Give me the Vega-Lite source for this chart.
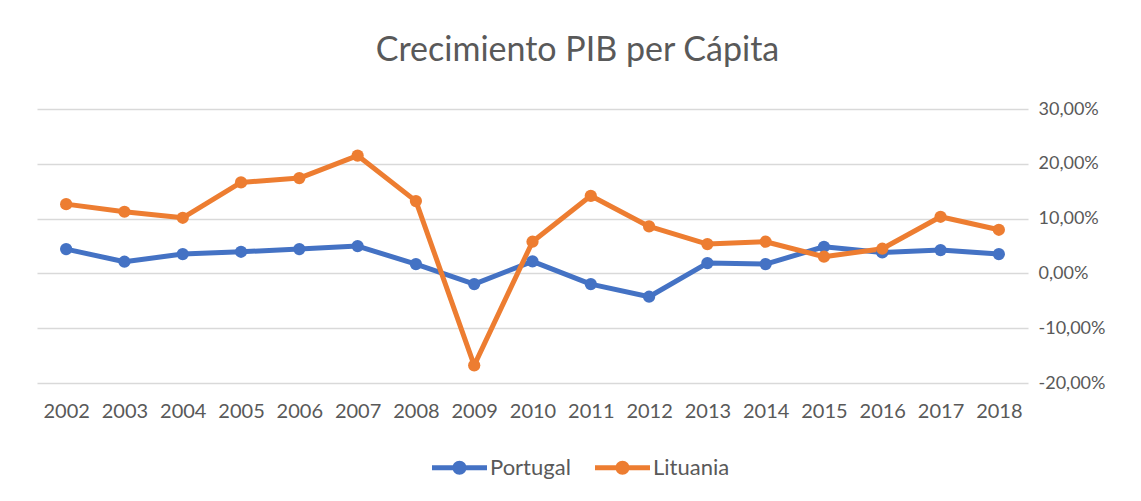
{
  "$schema": "https://vega.github.io/schema/vega-lite/v6.json",
  "autosize": "none",
  "width": 991,
  "height": 274,
  "padding": {"left": 37, "top": 109, "right": 113, "bottom": 118},
  "background": "white",
  "title": {
    "text": "Crecimiento PIB per Cápita",
    "anchor": "middle",
    "frame": "group",
    "baseline": "alphabetic",
    "offset": 5,
    "dx": 45,
    "font": "Lato",
    "fontSize": 34,
    "fontWeight": "normal",
    "color": "#595959"
  },
  "config": {
    "view": {"stroke": null},
    "font": "Lato",
    "axis": {"labelFont": "Lato", "labelFontSize": 20, "labelColor": "#595959", "titleColor": "#595959"},
    "legend": {"labelFont": "Lato", "labelFontSize": 22, "labelColor": "#595959"}
  },
  "data": {
    "values": [
      {"year": "2002", "country": "Portugal", "value": 4.44},
      {"year": "2003", "country": "Portugal", "value": 2.13},
      {"year": "2004", "country": "Portugal", "value": 3.53},
      {"year": "2005", "country": "Portugal", "value": 3.95},
      {"year": "2006", "country": "Portugal", "value": 4.44},
      {"year": "2007", "country": "Portugal", "value": 4.98},
      {"year": "2008", "country": "Portugal", "value": 1.70},
      {"year": "2009", "country": "Portugal", "value": -1.95},
      {"year": "2010", "country": "Portugal", "value": 2.19},
      {"year": "2011", "country": "Portugal", "value": -1.95},
      {"year": "2012", "country": "Portugal", "value": -4.26},
      {"year": "2013", "country": "Portugal", "value": 1.88},
      {"year": "2014", "country": "Portugal", "value": 1.70},
      {"year": "2015", "country": "Portugal", "value": 4.86},
      {"year": "2016", "country": "Portugal", "value": 3.83},
      {"year": "2017", "country": "Portugal", "value": 4.26},
      {"year": "2018", "country": "Portugal", "value": 3.53},
      {"year": "2002", "country": "Lituania", "value": 12.64},
      {"year": "2003", "country": "Lituania", "value": 11.25},
      {"year": "2004", "country": "Lituania", "value": 10.15},
      {"year": "2005", "country": "Lituania", "value": 16.60},
      {"year": "2006", "country": "Lituania", "value": 17.39},
      {"year": "2007", "country": "Lituania", "value": 21.50},
      {"year": "2008", "country": "Lituania", "value": 13.19},
      {"year": "2009", "country": "Lituania", "value": -16.78},
      {"year": "2010", "country": "Lituania", "value": 5.78},
      {"year": "2011", "country": "Lituania", "value": 14.16},
      {"year": "2012", "country": "Lituania", "value": 8.57},
      {"year": "2013", "country": "Lituania", "value": 5.35},
      {"year": "2014", "country": "Lituania", "value": 5.78},
      {"year": "2015", "country": "Lituania", "value": 3.04},
      {"year": "2016", "country": "Lituania", "value": 4.50},
      {"year": "2017", "country": "Lituania", "value": 10.33},
      {"year": "2018", "country": "Lituania", "value": 7.96}
    ]
  },
  "encoding": {
    "x": {
      "field": "year", "type": "ordinal",
      "scale": {"type": "point", "padding": 0.5},
      "axis": {"title": null, "domain": false, "ticks": false, "grid": false, "labelAngle": 0, "labelPadding": 18}
    },
    "y": {
      "field": "value", "type": "quantitative",
      "scale": {"domain": [-20, 30], "nice": false, "zero": false},
      "axis": {
        "orient": "right", "title": null, "domain": false, "ticks": false,
        "values": [-20, -10, 0, 10, 20, 30],
        "gridColor": "#d9d9d9", "gridWidth": 1.5,
        "labelPadding": 10,
        "labelFontSize": 18,
        "labelExpr": "replace(replace(format(datum.value, '.2f'), '.', ','), '\u2212', '-') + '%'"
      }
    },
    "color": {
      "field": "country", "type": "nominal",
      "scale": {"domain": ["Portugal", "Lituania"], "range": ["#4472C4", "#ED7D31"]},
      "legend": {
        "title": null, "orient": "none", "direction": "horizontal",
        "legendX": 395, "legendY": 331,
        "symbolType": "M -1 -0.09 L -0.24 -0.09 L -0.24 0.09 L -1 0.09 Z M 0.24 -0.09 L 1 -0.09 L 1 0.09 L 0.24 0.09 Z M 0.255 0 A 0.255 0.255 0 1 1 -0.255 0 A 0.255 0.255 0 1 1 0.255 0 Z",
        "symbolSize": 3025,
        "symbolStrokeWidth": 0,
        "symbolOpacity": 1,
        "labelOffset": 3,
        "columnPadding": 24
      }
    }
  },
  "layer": [
    {"mark": {"type": "line", "strokeWidth": 5, "strokeCap": "round", "strokeJoin": "round"}},
    {"mark": {"type": "point", "shape": "circle", "filled": true, "size": 150, "opacity": 1}}
  ]
}
